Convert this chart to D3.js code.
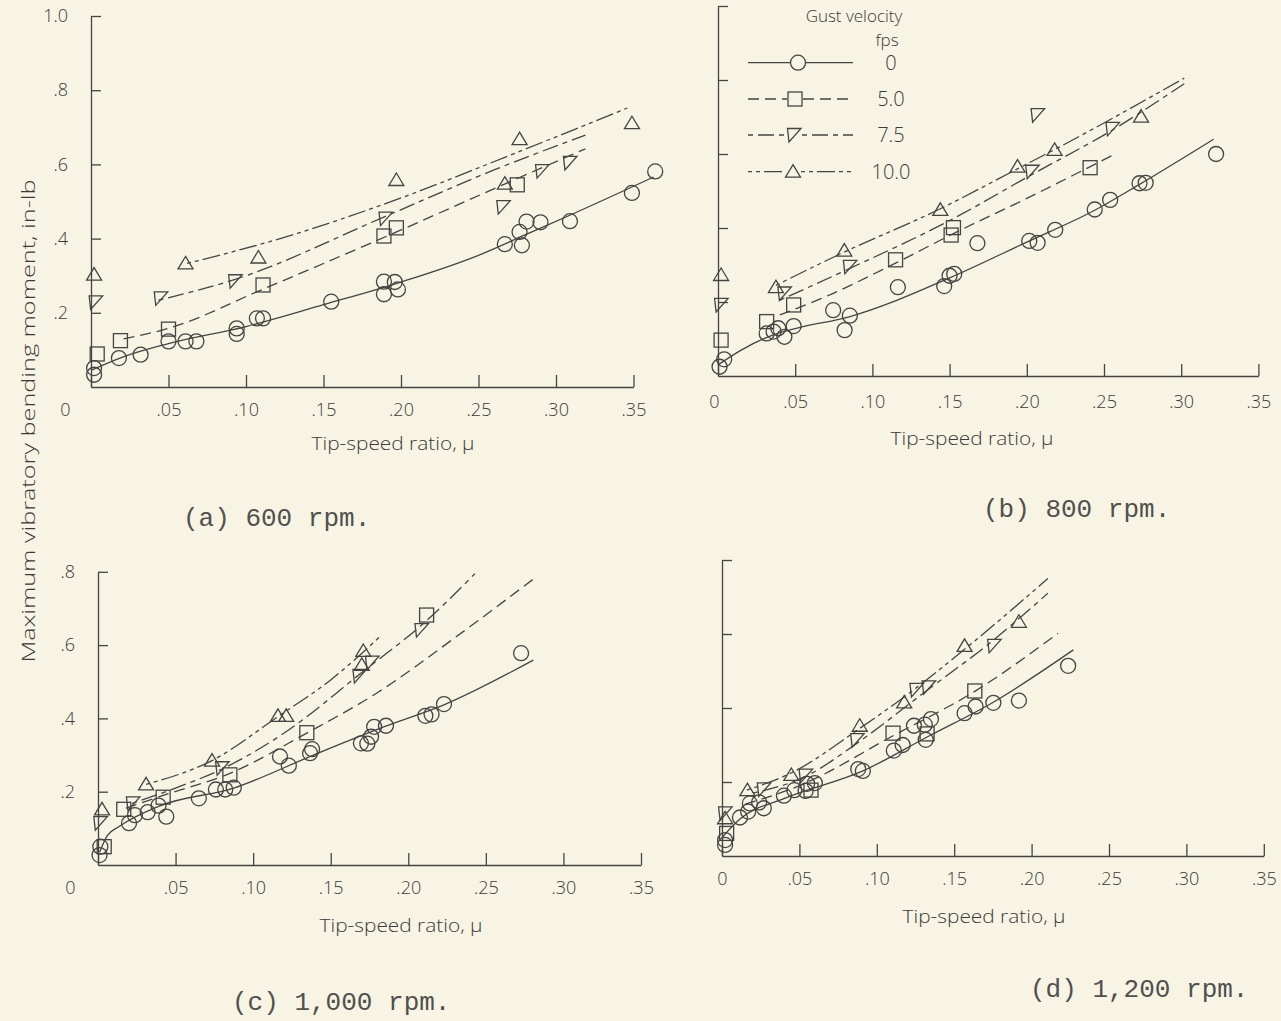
<!DOCTYPE html>
<html>
<head>
<meta charset="utf-8">
<script src="https://cdn.jsdelivr.net/npm/d3@7"></script>
<style>
  body { margin: 0; background: #f7f4e3; }
  svg { display: block; }
  text { font-family: "Open Sans", "DejaVu Sans", sans-serif; font-weight: 300; fill: #3a3a3a; }
  .title { font-family: "Liberation Mono", monospace; font-weight: 400; fill: #505050; }
</style>
</head>
<body>
<svg id="chart" width="1281" height="1021"></svg>
<script>
// gust velocities (fps), one series each
const gustLevels = ["0", "5.0", "7.5", "10.0"];
const panelTitles = ["(a)  600 rpm.", "(b)  800 rpm.", "(c)  1,000 rpm.", "(d)  1,200 rpm."];
const xTickValues = [0, 0.05, 0.10, 0.15, 0.20, 0.25, 0.30, 0.35];
const yTicksTall = [0.2, 0.4, 0.6, 0.8, 1.0];
const yTicksShort = [0.2, 0.4, 0.6, 0.8];

// (a) 600 rpm -- test points [mu, moment]
const pts600_0 = [[0.002,0.051],[0.002,0.033],[0.018,0.078],[0.032,0.087],[0.050,0.123],[0.061,0.123],[0.068,0.123],[0.094,0.158],[0.094,0.143],[0.107,0.185],[0.111,0.185],[0.155,0.230],[0.189,0.284],[0.189,0.250],[0.196,0.283],[0.198,0.263],[0.267,0.385],[0.2765,0.418],[0.278,0.382],[0.281,0.446],[0.290,0.444],[0.309,0.447],[0.349,0.523],[0.364,0.581]];
const pts600_5 = [[0.004,0.089],[0.019,0.125],[0.050,0.156],[0.111,0.275],[0.189,0.407],[0.197,0.429],[0.275,0.545]];
const pts600_75 = [[0.003,0.228],[0.045,0.239],[0.093,0.285],[0.190,0.454],[0.266,0.485],[0.291,0.582],[0.309,0.604]];
const pts600_10 = [[0.002,0.303],[0.061,0.333],[0.108,0.349],[0.197,0.558],[0.267,0.548],[0.2765,0.668],[0.349,0.711]];
// faired curves
const fit600_0 = [[0.0,0.045],[0.02,0.08],[0.05,0.117],[0.10,0.163],[0.15,0.222],[0.20,0.283],[0.25,0.355],[0.28,0.41],[0.31,0.465],[0.363,0.566]];
const fit600_5 = [[0.021,0.13],[0.05,0.158],[0.11,0.262],[0.19,0.405],[0.275,0.562],[0.319,0.642]];
const fit600_75 = [[0.0435,0.234],[0.093,0.29],[0.19,0.46],[0.26,0.585],[0.319,0.679]];
const fit600_10 = [[0.062,0.333],[0.13,0.41],[0.197,0.505],[0.2765,0.635],[0.346,0.752]];

// (b) 800 rpm
const pts800_0 = [[0.001,0.025],[0.004,0.045],[0.0315,0.115],[0.036,0.12],[0.039,0.129],[0.043,0.106],[0.049,0.135],[0.0746,0.178],[0.082,0.124],[0.0854,0.163],[0.1165,0.240],[0.1465,0.243],[0.150,0.271],[0.153,0.276],[0.168,0.359],[0.2016,0.365],[0.207,0.360],[0.2184,0.395],[0.244,0.450],[0.254,0.476],[0.273,0.521],[0.277,0.522],[0.3226,0.600]];
const pts800_5 = [[0.002,0.097],[0.0315,0.147],[0.049,0.192],[0.115,0.314],[0.151,0.381],[0.1525,0.401],[0.241,0.563]];
const pts800_75 = [[0.002,0.192],[0.043,0.223],[0.0854,0.295],[0.207,0.705],[0.2035,0.552],[0.2555,0.668]];
const pts800_10 = [[0.002,0.273],[0.0375,0.240],[0.0818,0.339],[0.144,0.449],[0.194,0.566],[0.218,0.611],[0.274,0.701]];
const fit800_0 = [[0.0,0.03],[0.015,0.07],[0.035,0.11],[0.05,0.128],[0.085,0.16],[0.15,0.265],[0.20,0.362],[0.244,0.448],[0.273,0.518],[0.321,0.64]];
const fit800_5 = [[0.040,0.165],[0.07,0.215],[0.115,0.305],[0.1525,0.385],[0.20,0.48],[0.258,0.602]];
const fit800_75 = [[0.040,0.205],[0.085,0.29],[0.15,0.42],[0.2035,0.545],[0.2555,0.665],[0.302,0.79]];
const fit800_10 = [[0.0375,0.245],[0.0818,0.335],[0.144,0.452],[0.194,0.56],[0.218,0.612],[0.302,0.805]];

// (c) 1,000 rpm
const pts1000_0 = [[0.001,0.027],[0.0015,0.050],[0.020,0.114],[0.0238,0.136],[0.032,0.144],[0.039,0.162],[0.044,0.132],[0.065,0.182],[0.076,0.206],[0.082,0.206],[0.0875,0.211],[0.1173,0.296],[0.123,0.271],[0.1367,0.305],[0.138,0.316],[0.1695,0.332],[0.1736,0.331],[0.176,0.350],[0.178,0.377],[0.1856,0.380],[0.211,0.407],[0.215,0.411],[0.223,0.439],[0.2727,0.578]];
const pts1000_5 = [[0.004,0.05],[0.0166,0.152],[0.042,0.185],[0.085,0.246],[0.1346,0.361],[0.2118,0.682]];
const pts1000_75 = [[0.0015,0.114],[0.0225,0.168],[0.080,0.264],[0.1685,0.516],[0.1766,0.552],[0.2085,0.641]];
const pts1000_10 = [[0.0026,0.152],[0.031,0.220],[0.0735,0.285],[0.116,0.407],[0.1213,0.407],[0.171,0.584],[0.170,0.546]];
const fit1000_0 = [[0.001,0.035],[0.006,0.08],[0.0136,0.105],[0.039,0.16],[0.0875,0.21],[0.14,0.302],[0.185,0.378],[0.223,0.437],[0.2806,0.559]];
const fit1000_5 = [[0.018,0.155],[0.042,0.19],[0.085,0.25],[0.1346,0.36],[0.18,0.47],[0.23,0.62],[0.2806,0.78]];
const fit1000_75 = [[0.022,0.168],[0.05,0.21],[0.08,0.262],[0.12,0.36],[0.17,0.525],[0.21,0.66],[0.243,0.795]];
const fit1000_10 = [[0.031,0.22],[0.0735,0.285],[0.116,0.405],[0.15,0.505],[0.183,0.628]];

// (d) 1,200 rpm
const pts1200_0 = [[0.002,0.030],[0.002,0.043],[0.0116,0.104],[0.0169,0.120],[0.018,0.142],[0.024,0.145],[0.027,0.129],[0.040,0.163],[0.0467,0.178],[0.054,0.176],[0.055,0.195],[0.060,0.197],[0.088,0.235],[0.091,0.230],[0.111,0.285],[0.1167,0.300],[0.124,0.352],[0.1316,0.314],[0.131,0.355],[0.135,0.370],[0.1567,0.386],[0.1638,0.404],[0.1753,0.414],[0.1918,0.420],[0.2236,0.514]];
const pts1200_5 = [[0.003,0.061],[0.0575,0.178],[0.1105,0.332],[0.1325,0.33],[0.1633,0.446]];
const pts1200_75 = [[0.002,0.115],[0.027,0.18],[0.054,0.217],[0.0873,0.313],[0.1256,0.449],[0.1335,0.456],[0.1758,0.568]];
const pts1200_10 = [[0.002,0.102],[0.0164,0.178],[0.0448,0.219],[0.089,0.352],[0.1177,0.415],[0.1567,0.568],[0.1918,0.633]];
const fit1200_0 = [[0.0,0.05],[0.0116,0.1],[0.04,0.155],[0.091,0.23],[0.134,0.325],[0.175,0.415],[0.227,0.557]];
const fit1200_5 = [[0.015,0.14],[0.05,0.19],[0.1105,0.325],[0.1633,0.445],[0.2171,0.602]];
const fit1200_75 = [[0.02,0.17],[0.054,0.215],[0.0873,0.305],[0.13,0.44],[0.1758,0.585],[0.2105,0.71]];
const fit1200_10 = [[0.016,0.178],[0.045,0.225],[0.089,0.345],[0.1177,0.43],[0.16,0.57],[0.2105,0.75]];

const INK = "#444";
const seriesStyle = [
  { shape: "circle", dash: null },
  { shape: "square", dash: "11,6" },
  { shape: "down",   dash: "5,5,16,5" },
  { shape: "up",     dash: "4,4,4,4,18,4" }
];

// layout of the four panels on the page
const panels = [
  { title: panelTitles[0], pts: [pts600_0, pts600_5, pts600_75, pts600_10], fits: [fit600_0, fit600_5, fit600_75, fit600_10],
    xr: [91, 633.5], yr: [387, 16], yMax: 1.0, yTicks: yTicksTall, yLabels: true, zeroDx: -26, pad: 16,
    xLab: [393, 450], tPos: [183, 526] },
  { title: panelTitles[1], pts: [pts800_0, pts800_5, pts800_75, pts800_10], fits: [fit800_0, fit800_5, fit800_75, fit800_10],
    xr: [718, 1258.4], yr: [376, 6], yMax: 1.0, yTicks: yTicksTall, yLabels: false, zeroDx: -4, pad: 19,
    xLab: [972, 445], tPos: [983, 517] },
  { title: panelTitles[2], pts: [pts1000_0, pts1000_5, pts1000_75, pts1000_10], fits: [fit1000_0, fit1000_5, fit1000_75, fit1000_10],
    xr: [98, 641], yr: [865, 571.8], yMax: 0.8, yTicks: yTicksShort, yLabels: true, zeroDx: -28, pad: 16,
    xLab: [401, 932], tPos: [232, 1010] },
  { title: panelTitles[3], pts: [pts1200_0, pts1200_5, pts1200_75, pts1200_10], fits: [fit1200_0, fit1200_5, fit1200_75, fit1200_10],
    xr: [722, 1263.8], yr: [856, 560], yMax: 0.8, yTicks: yTicksShort, yLabels: false, zeroDx: 0, pad: 16,
    xLab: [984, 923], tPos: [1030, 997] }
];

const svg = d3.select("#chart");

const fmtX = d => d === 0 ? "0" : d3.format(".2f")(d).replace(/^0/, "");
const fmtY = d => d3.format(".1f")(d).replace(/^0/, "");

function drawMarker(g, shape, cx, cy) {
  if (shape === "circle") {
    g.append("circle").attr("cx", cx).attr("cy", cy).attr("r", 7.5);
  } else if (shape === "square") {
    g.append("rect").attr("x", cx - 7).attr("y", cy - 7).attr("width", 14).attr("height", 14);
  } else if (shape === "down") {
    g.append("path").attr("transform", `translate(${cx},${cy})`).attr("d", "M-6.5,-6.5L7,-6.5L-5,7Z");
  } else {
    g.append("path").attr("transform", `translate(${cx},${cy})`).attr("d", "M0,-7L7.5,5.5L-7.5,5.5Z");
  }
}

panels.forEach(p => {
  const x = d3.scaleLinear().domain([0, 0.35]).range(p.xr);
  const y = d3.scaleLinear().domain([0, p.yMax]).range(p.yr);
  const g = svg.append("g");

  // axes
  const gx = g.append("g")
    .attr("transform", `translate(0,${p.yr[0]})`)
    .call(d3.axisBottom(x).tickValues(xTickValues).tickSize(-12).tickSizeOuter(0)
      .tickPadding(p.pad).tickFormat(fmtX));
  gx.selectAll(".tick text").filter(d => d === 0).attr("x", p.zeroDx);

  const gy = g.append("g")
    .attr("transform", `translate(${p.xr[0]},0)`)
    .call(d3.axisLeft(y).tickValues(p.yTicks).tickSize(-10).tickSizeOuter(0)
      .tickPadding(23).tickFormat(p.yLabels ? fmtY : ""));

  [gx, gy].forEach(a => {
    a.attr("font-family", null).attr("font-size", 18).attr("color", INK);
    a.selectAll("path, line").attr("stroke-width", 1.3);
  });

  // faired curves
  const line = d3.line().x(d => x(d[0])).y(d => y(d[1])).curve(d3.curveMonotoneX);
  p.fits.forEach((f, i) => {
    g.append("path").datum(f)
      .attr("d", line)
      .attr("fill", "none")
      .attr("stroke", INK)
      .attr("stroke-width", 1.3)
      .attr("stroke-dasharray", seriesStyle[i].dash);
  });

  // test points
  const gm = g.append("g").attr("fill", "none").attr("stroke", INK).attr("stroke-width", 1.3);
  p.pts.forEach((s, i) => {
    s.forEach(d => drawMarker(gm, seriesStyle[i].shape, x(d[0]), y(d[1])));
  });

  g.append("text")
    .attr("x", p.xLab[0]).attr("y", p.xLab[1])
    .attr("text-anchor", "middle")
    .attr("font-size", 18)
    .attr("textLength", 163).attr("lengthAdjust", "spacingAndGlyphs")
    .text("Tip-speed ratio, \u03bc");

  g.append("text").attr("class", "title")
    .attr("x", p.tPos[0]).attr("y", p.tPos[1])
    .attr("font-size", 26)
    .text(p.title);
});

// shared y label
svg.append("text")
  .attr("transform", "translate(35,421) rotate(-90)")
  .attr("text-anchor", "middle")
  .attr("font-size", 19)
  .attr("textLength", 483).attr("lengthAdjust", "spacingAndGlyphs")
  .text("Maximum vibratory bending moment, in-lb");

// legend in panel (b)
const legend = svg.append("g");
legend.append("text").attr("x", 854).attr("y", 22).attr("text-anchor", "middle")
  .attr("font-size", 17).text("Gust velocity");
legend.append("text").attr("x", 887).attr("y", 46).attr("text-anchor", "middle")
  .attr("font-size", 17).text("fps");

const legendRows = [62.7, 99, 135, 171.7];
const legendMarkX = [798, 795, 794, 793];
gustLevels.forEach((lev, i) => {
  const ly = legendRows[i], mx = legendMarkX[i];
  [[748, mx - 8], [mx + 8, 853]].forEach(seg => {
    legend.append("line")
      .attr("x1", seg[0]).attr("x2", seg[1]).attr("y1", ly).attr("y2", ly)
      .attr("stroke", INK).attr("stroke-width", 1.3)
      .attr("stroke-dasharray", seriesStyle[i].dash);
  });
  const gm = legend.append("g").attr("fill", "none").attr("stroke", INK).attr("stroke-width", 1.3);
  drawMarker(gm, seriesStyle[i].shape, mx, ly);
  legend.append("text").attr("x", 891).attr("y", ly + 7).attr("text-anchor", "middle")
    .attr("font-size", 20).text(lev);
});
</script>
</body>
</html>
